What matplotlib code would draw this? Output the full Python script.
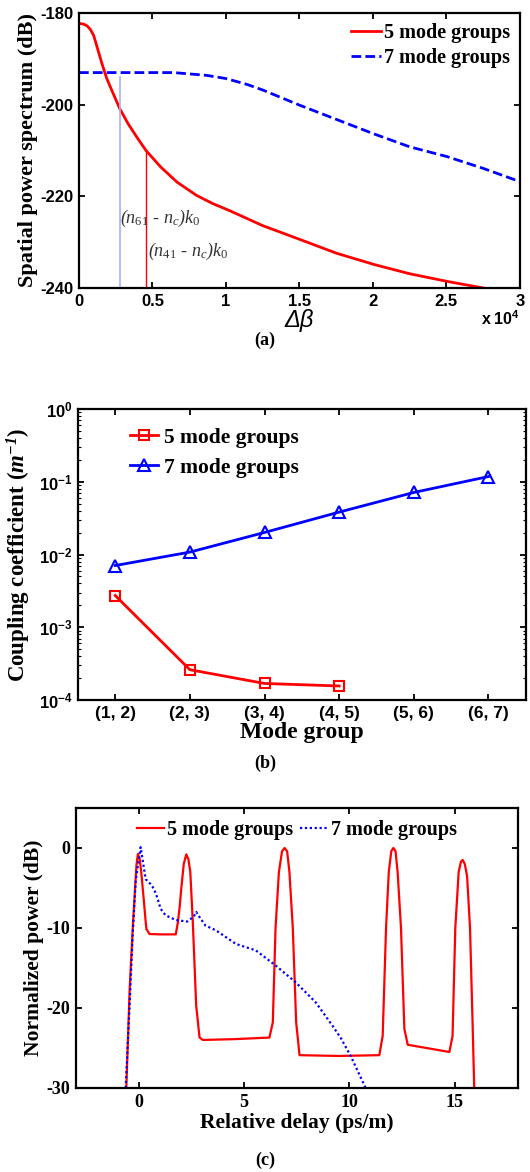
import numpy as np
import matplotlib
matplotlib.use("Agg")
import matplotlib.pyplot as plt
from matplotlib.ticker import FuncFormatter, FixedLocator

plt.rcParams['axes.unicode_minus'] = False
plt.rcParams['mathtext.fontset'] = 'custom'
plt.rcParams['mathtext.rm'] = 'Liberation Serif'
plt.rcParams['mathtext.it'] = 'Liberation Serif:italic'
plt.rcParams['mathtext.bf'] = 'Liberation Sans:bold'
plt.rcParams['mathtext.bfit'] = 'Liberation Serif:italic:bold'

SERIF = 'Liberation Serif'
SANS = 'Liberation Sans'

# (a) spatial power spectrum
a_red_x = [0, 50, 300, 550, 780, 1000, 1230, 1560, 1890, 2330, 2780, 3330, 4000, 4560, 5560, 6670,
           8000, 9110, 10230, 12500, 15100, 17500, 20100, 22500, 25100, 27500]
a_red_y = [-182.3, -182.3, -182.4, -182.8, -183.6, -184.9, -187.4, -191.0, -194.3, -197.6, -200.9,
           -204.1, -207.4, -210.0, -213.6, -216.9, -219.8, -221.6, -223.1, -226.4, -229.5,
           -232.4, -234.9, -236.9, -238.6, -240.0]
a_blue_x = [0, 3000, 6440, 8670, 10000, 11450, 12500, 15000, 17500, 20000, 22500, 25000, 27500, 30000]
a_blue_y = [-193.0, -193.0, -193.0, -193.6, -194.3, -195.6, -196.8, -200.1, -203.2, -206.3,
            -209.2, -211.3, -213.9, -216.8]
a_mark_61 = 2780
a_mark_41 = 4560

# (b) coupling coefficients
b_labels = ['(1, 2)', '(2, 3)', '(3, 4)', '(4, 5)', '(5, 6)', '(6, 7)']
b_red = [2.73e-3, 2.61e-4, 1.69e-4, 1.56e-4]
b_blue = [7.06e-3, 1.08e-2, 2.01e-2, 3.83e-2, 7.13e-2, 0.118]

# (c) impulse response
c_red_x = [-0.6, -0.44, -0.28, -0.12, -0.05, 0.03, 0.11, 0.23, 0.35, 0.5, 1.0, 1.75,
           1.85, 1.93, 2.01, 2.13, 2.25, 2.35, 2.44, 2.56, 2.72, 2.88, 3.04,
           4.5, 6.2, 6.36, 6.49, 6.65, 6.8, 6.92, 7.04, 7.15, 7.31, 7.47, 7.63,
           9.5, 11.42, 11.58, 11.74, 11.87, 11.99, 12.09, 12.19, 12.29, 12.45, 12.61, 12.77,
           14.75, 14.9, 15.03, 15.19, 15.3, 15.38, 15.48, 15.59, 15.73, 15.85, 15.93]
c_red_y = [-30, -17.6, -9.3, -2.2, -0.75, -1.3, -3, -6.5, -10.1, -10.75, -10.8, -10.8,
           -9.3, -7.5, -5.1, -2.0, -0.8, -1.4, -3, -9.3, -19.7, -23.7, -24.0,
           -23.9, -23.7, -21.8, -10, -3, -0.4, 0, -0.4, -3, -10, -21.8, -25.9,
           -26, -25.9, -23.5, -10, -3, -0.4, 0, -0.4, -3, -10, -22.6, -24.6,
           -25.5, -23.5, -10, -3, -1.7, -1.5, -2.0, -3.5, -10, -21.8, -30]
c_blue_x = [-0.63, -0.45, -0.3, -0.15, 0.08, 0.32, 0.55, 0.71, 0.87, 1.03, 1.26, 1.74, 2.29,
            2.6, 2.72, 2.92, 3.16, 3.66, 4.61, 5.55, 6.5, 7.45, 8.4, 9.19, 9.6, 10.06, 10.77]
c_blue_y = [-30, -20, -11, -4, 0.1, -3.9, -4.5, -5.1, -6.2, -7.6, -8.4, -9.0, -9.2,
            -8.6, -8.0, -8.8, -9.7, -10.3, -12.0, -12.8, -14.7, -16.8, -19.3, -22.2, -23.8,
            -26.0, -30]

fig = plt.figure(figsize=(5.3, 11.72), dpi=100)


def style_axes(ax, family, size):
    for s in ax.spines.values():
        s.set_linewidth(1.6)
    ax.tick_params(direction='in', top=True, right=True, width=1.3, length=4,
                   labelsize=size, pad=4)
    ax.tick_params(which='minor', direction='in', top=True, right=True, width=0.8, length=2)
    for lab in ax.get_xticklabels() + ax.get_yticklabels():
        lab.set_fontfamily(family)
        lab.set_fontweight('bold')


# ---------- (a)
ax1 = fig.add_axes([0.149, 0.7543, 0.832, 0.2346])
ax1.plot(a_red_x, a_red_y, color='red', lw=2, label='5 mode groups')
ax1.plot(a_blue_x, a_blue_y, color='blue', lw=2, ls=(0, (3.5, 1.5)), label='7 mode groups')
ax1.plot([a_mark_61, a_mark_61], [-240, -194.0], color='#a8b0f4', lw=1.2)
ax1.plot([a_mark_41, a_mark_41], [-240, np.interp(a_mark_41, a_red_x, a_red_y)], color='red', lw=1)
ax1.set_xlim(0, 30000)
ax1.set_ylim(-240, -180)
ax1.set_yticks([-240, -220, -200, -180])
ax1.set_xticks(np.arange(0, 30001, 5000))
ax1.xaxis.set_major_formatter(FuncFormatter(lambda v, p: ('%g' % (v / 1e4))))
style_axes(ax1, SANS, 12)
ax1.set_ylabel('Spatial power spectrum (dB)', family=SERIF, weight='bold', fontsize=16, labelpad=2)
ax1.set_xlabel('Δβ', family=SANS, style='italic', fontsize=17, labelpad=0)
ax1.text(1.0, -0.11, r'$\mathbf{x\ 10^{4}}$', transform=ax1.transAxes, ha='right', va='center',
         fontsize=11.5)
ax1.text(a_mark_61, -224.8, r'($\mathit{n_{61}}$ - $\mathit{n_c}$)$\mathit{k_0}$', family=SERIF,
         style='italic', fontsize=13, color='#333333', va='center')
ax1.text(a_mark_41 + 150, -232, r'($\mathit{n_{41}}$ - $\mathit{n_c}$)$\mathit{k_0}$', family=SERIF,
         style='italic', fontsize=13, color='#333333', va='center')
ax1.legend(loc='upper right', frameon=False, prop={'family': SERIF, 'weight': 'bold', 'size': 14.5},
           handlelength=1.5, handletextpad=0.15, borderaxespad=0.1, labelspacing=0.25)
fig.text(0.5, 1 - 340 / 1172, '(a)', family=SERIF, weight='bold', fontsize=13, ha='center', va='center')

# ---------- (b)
ax2 = fig.add_axes([0.147, 0.4027, 0.845, 0.2483])
xb = np.arange(1, len(b_labels) + 1)
ax2.semilogy(xb[:len(b_red)], b_red, color='red', lw=2, marker='s', ms=7, mfc='none', mew=1.5,
             label='5 mode groups')
ax2.semilogy(xb, b_blue, color='blue', lw=2, marker='^', ms=9, mfc='none', mew=1.5,
             label='7 mode groups')
ax2.set_xlim(0.5, 6.5)
ax2.set_ylim(1e-4, 1)
ax2.set_xticks(xb)
ax2.set_xticklabels(b_labels)
ax2.yaxis.set_major_locator(FixedLocator([1e-4, 1e-3, 1e-2, 1e-1, 1]))
ax2.yaxis.set_major_formatter(FuncFormatter(lambda v, p: r'$\mathbf{10^{%d}}$' % round(np.log10(v))))
style_axes(ax2, SANS, 12.5)
for lab in ax2.get_yticklabels():
    lab.set_fontsize(12)
ax2.tick_params(axis='x', which='minor', bottom=False, top=False)
ax2.set_ylabel(r'Coupling coefficient ($\mathbfit{m^{-1}}$)', family=SERIF, weight='bold',
               fontsize=16.5, labelpad=4)
ax2.set_xlabel('Mode group', family=SERIF, weight='bold', fontsize=17, labelpad=1)
ax2.legend(loc='upper left', frameon=False, prop={'family': SERIF, 'weight': 'bold', 'size': 15.5},
           handlelength=1.3, handletextpad=0.3, borderaxespad=0.0, labelspacing=0.45,
           bbox_to_anchor=(0.097, 0.965))
fig.text(0.5, 1 - 763 / 1172, '(b)', family=SERIF, weight='bold', fontsize=13, ha='center', va='center')

# ---------- (c)
ax3 = fig.add_axes([0.143, 0.0717, 0.834, 0.2389])
ax3.plot(c_red_x, c_red_y, color='red', lw=1.6, label='5 mode groups')
ax3.plot(c_blue_x, c_blue_y, color='blue', lw=1.6, ls=(0, (1, 1.2)), label='7 mode groups')
ax3.set_xlim(-3, 18)
ax3.set_ylim(-30, 5)
ax3.set_xticks([0, 5, 10, 15])
ax3.set_yticks([-30, -20, -10, 0])
style_axes(ax3, SERIF, 13)
ax3.set_ylabel('Normalized power (dB)', family=SERIF, weight='bold', fontsize=15.5, labelpad=2)
ax3.set_xlabel('Relative delay (ps/m)', family=SERIF, weight='bold', fontsize=15.5, labelpad=2)
ax3.legend(loc='upper center', ncol=2, frameon=False,
           prop={'family': SERIF, 'weight': 'bold', 'size': 14.5},
           handlelength=1.35, handletextpad=0.15, columnspacing=0.35, borderaxespad=0.2)
fig.text(0.5, 1 - 1160 / 1172, '(c)', family=SERIF, weight='bold', fontsize=13, ha='center', va='center')

fig.savefig('out.png', dpi=100)
